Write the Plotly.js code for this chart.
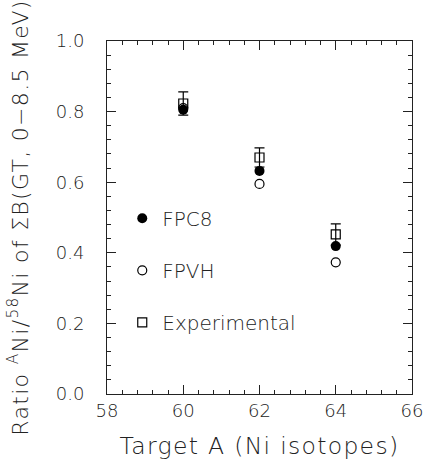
<!DOCTYPE html>
<html><head><meta charset="utf-8">
<script src="https://cdn.plot.ly/plotly-3.0.1.min.js"></script>
<style>body{margin:0;background:#fff}
#chart text.ytitle, #chart text.xtitle {letter-spacing: 1.3px}
</style>
</head><body><div id="chart" style="width:424px;height:470px"></div>
<script>
const targetA = [60, 62, 64];
const fpc8 = [0.805, 0.632, 0.419];
const fpvh = [0.81, 0.595, 0.373];
const experimental = [0.823, 0.670, 0.452];
const expError = [0.033, 0.027, 0.030];
const xTicks = [58, 60, 62, 64, 66];
const yTicks = [0.0, 0.2, 0.4, 0.6, 0.8, 1.0];
const yTickLabels = ['0.0', '0.2', '0.4', '0.6', '0.8', '1.0'];

const FONT = 'DejaVu Sans, sans-serif';
const W = 200;
const traces = [
  {x: targetA, y: experimental, name: 'Experimental', mode: 'markers', type: 'scatter',
   legendgroup: 'c', legendrank: 3,
   marker: {symbol: 'square-open', size: 9, color: '#000', line: {width: 1.2, color: '#000'}},
   error_y: {type: 'data', array: expError, visible: true, color: '#000', thickness: 1.2, width: 5}},
  {x: targetA, y: fpvh, name: 'FPVH', mode: 'markers', type: 'scatter',
   legendgroup: 'b', legendrank: 2,
   marker: {symbol: 'circle-open', size: 9, color: '#000', line: {width: 1.2, color: '#000'}}},
  {x: targetA, y: fpc8, name: 'FPC8', mode: 'markers', type: 'scatter',
   legendgroup: 'a', legendrank: 1,
   marker: {symbol: 'circle', size: 10, color: '#000'}}
];
const layout = {
  width: 424, height: 470,
  margin: {l: 107, r: 12, t: 41, b: 76},
  paper_bgcolor: '#fff', plot_bgcolor: '#fff',
  font: {family: FONT, color: '#222', weight: W},
  showlegend: true,
  legend: {x: 0.05, y: 0.553, xanchor: 'left', yanchor: 'top', bgcolor: 'rgba(0,0,0,0)',
           font: {size: 20, family: FONT, color: '#222', weight: W}, tracegroupgap: 23, traceorder: 'grouped',
           itemwidth: 30},
  xaxis: {range: [58, 66], tickvals: xTicks, ticks: 'inside', ticklen: 9, tickcolor: '#222',
          showline: true, linecolor: '#222', linewidth: 1, mirror: 'ticks', showgrid: false, zeroline: false,
          tickfont: {size: 18, family: FONT, color: '#222', weight: W},
          minor: {dtick: 0.4, tick0: 58, ticks: 'inside', ticklen: 4, tickcolor: '#222', showgrid: false},
          title: {text: 'Target A (Ni isotopes)', font: {size: 23.5, family: FONT, color: '#222', weight: W}, standoff: 17}},
  yaxis: {range: [0, 1], tickvals: yTicks, ticktext: yTickLabels, ticks: 'inside', ticklen: 9, tickcolor: '#222',
          showline: true, linecolor: '#222', linewidth: 1, mirror: 'ticks', showgrid: false, zeroline: false,
          ticklabelstandoff: 18,
          tickfont: {size: 18, family: FONT, color: '#222', weight: W},
          minor: {dtick: 0.04, tick0: 0, ticks: 'inside', ticklen: 4, tickcolor: '#222', showgrid: false},
          title: {text: 'Ratio <sup>A</sup>Ni/<sup>58</sup>Ni of ΣB(GT, 0−8.5 MeV)', font: {size: 22, family: FONT, color: '#222', weight: W}, standoff: 21}}
};
Plotly.newPlot('chart', traces, layout, {displayModeBar: false, staticPlot: true});
</script></body></html>
